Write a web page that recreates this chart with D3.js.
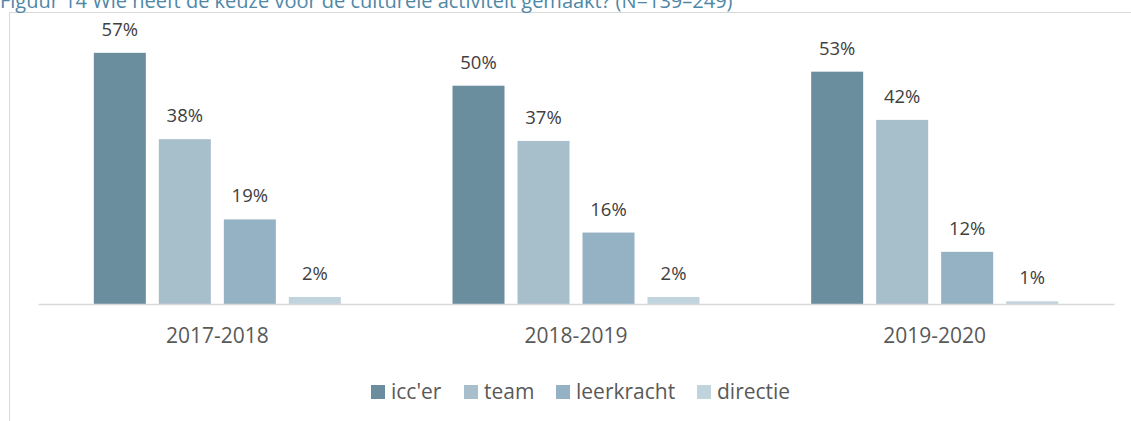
<!DOCTYPE html>
<html><head><meta charset="utf-8">
<script src="https://cdn.jsdelivr.net/npm/d3@7"></script>
<style>body{margin:0;background:#fff;} svg{display:block;}</style>
</head><body>
<svg id="c" width="1131" height="421"></svg>
<script>
const title = "Figuur 14 Wie heeft de keuze voor de culturele activiteit gemaakt? (N=139–249)";
const years = ["2017-2018", "2018-2019", "2019-2020"];
const series = ["icc'er", "team", "leerkracht", "directie"];
const iccer = [57.3, 49.8, 53.0];
const team = [37.6, 37.2, 42.0];
const leerkracht = [19.3, 16.3, 11.9];
const directie = [1.6, 1.6, 0.6];
const colors = ["#6a8e9e", "#a7becb", "#94b2c3", "#c1d3dc"];

const values = [iccer, team, leerkracht, directie];
const svg = d3.select("#c");
const font = "'Open Sans', sans-serif";

// frame
svg.append("path").attr("d", "M9.5,421 V12.5 H1131").attr("fill", "none").attr("stroke", "#d9d9d9").attr("stroke-width", 1);
svg.append("text").attr("x", 0).attr("y", 8).attr("font-family", font)
  .attr("font-size", 20).attr("fill", "#4f88a6").text(title);

const x0 = d3.scaleBand().domain(years).range([38, 1114]);
const step = 65, bw = 52;
const x1 = d3.scalePoint().domain(series).range([0, 3 * step]);
const y = d3.scaleLinear().domain([0, 60]).range([304, 41]);

const groups = svg.selectAll("g.grp").data(years).join("g")
  .attr("transform", d => `translate(${x0(d) + x0.bandwidth()/2 - (3 * step + bw)/2},0)`);

groups.each(function(yr, gi) {
  const g = d3.select(this);
  series.forEach((s, si) => {
    const v = values[si][gi];
    g.append("rect").attr("x", x1(s)).attr("width", bw)
      .attr("y", y(v)).attr("height", y(0) - y(v)).attr("fill", colors[si]);
    g.append("text").attr("x", x1(s) + bw/2).attr("y", y(v) - 17)
      .attr("text-anchor", "middle").attr("font-family", font).attr("font-size", 18.5)
      .attr("fill", "#404040").text(Math.round(v) + "%");
  });
});

// axis
const ax = svg.append("g").attr("transform", "translate(0,304)").call(d3.axisBottom(x0).tickSize(0));
ax.select(".domain").attr("stroke", "#d9d9d9").attr("stroke-width", 1.5);
ax.selectAll("text").attr("dy", null).attr("y", 39).attr("font-family", font).attr("font-size", 21).attr("fill", "#595959");

// legend
const legX = [371, 464, 556, 697];
const leg = svg.append("g");
series.forEach((s, i) => {
  leg.append("rect").attr("x", legX[i]).attr("y", 385).attr("width", 14).attr("height", 14).attr("fill", colors[i]);
  leg.append("text").attr("x", legX[i] + 20).attr("y", 399).attr("font-family", font)
    .attr("font-size", 21).attr("fill", "#595959").text(s);
});
</script>
</body></html>
